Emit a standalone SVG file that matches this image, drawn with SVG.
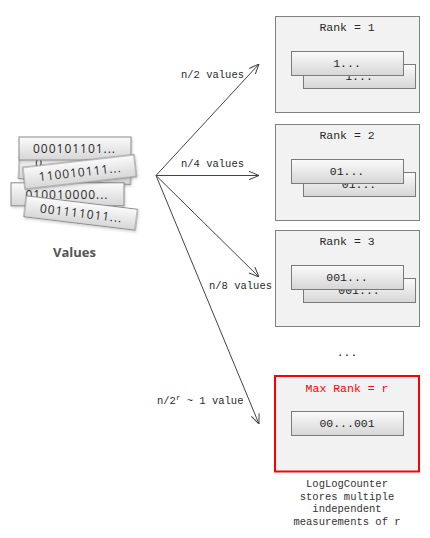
<svg xmlns="http://www.w3.org/2000/svg" width="430" height="538" viewBox="0 0 430 538">
<defs>
<linearGradient id="cardGrad" x1="0" y1="0" x2="0" y2="1">
<stop offset="0" stop-color="#fbfbfb"/>
<stop offset="1" stop-color="#d6d6d6"/>
</linearGradient>
<filter id="shadow" x="-10%" y="-30%" width="130%" height="170%">
<feDropShadow dx="1" dy="1.5" stdDeviation="1.2" flood-color="#000" flood-opacity="0.18"/>
</filter>
<marker id="arrow" viewBox="0 0 10 10" refX="10" refY="5" markerWidth="10" markerHeight="10" markerUnits="userSpaceOnUse" orient="auto">
<path d="M0,0.8 L10,5 L0,9.2" fill="none" stroke="#444" stroke-width="1"/>
</marker>
<style>
.card{fill:url(#cardGrad);stroke:#8a8a8a;stroke-width:1;filter:url(#shadow)}
.cardtxt{font-family:"Open Sans","Noto Sans",sans-serif;font-size:12px;fill:#2a2a2a;text-anchor:middle}
.rankbox{fill:#f2f2f2;stroke:#808080;stroke-width:1}
.maxbox{fill:#f2f2f2;stroke:#ff0000;stroke-width:2}
.inner{fill:url(#cardGrad);stroke:#7a7a7a;stroke-width:1}
.mono{font-family:"Liberation Mono","Courier New",monospace;fill:#2a2a2a}
.title{font-size:11.5px;text-anchor:middle}
.val{font-size:11.5px;text-anchor:middle;fill:#1e1e1e}
.lbl{font-size:10.5px}
.cap{font-size:10.5px;text-anchor:middle;fill:#333}
.conn{stroke:#444;stroke-width:1;fill:none;marker-end:url(#arrow)}
.values{font-family:"Open Sans","Noto Sans",sans-serif;font-weight:bold;font-size:13px;fill:#555;text-anchor:middle}
</style>
</defs>
<rect width="430" height="538" fill="#ffffff"/>

<g id="values">
<g transform="translate(75,170) rotate(3)">
<rect class="card" x="-56" y="-11.5" width="112" height="23"/>
<text class="cardtxt" x="-40" y="-1" style="text-anchor:start">0</text>
</g>
<g transform="translate(75,148.5)">
<rect class="card" x="-56" y="-11.5" width="112" height="23"/>
<text class="cardtxt" x="-1" y="4.5" textLength="82" lengthAdjust="spacing">000101101...</text>
</g>
<g transform="translate(67.5,194.3)">
<rect class="card" x="-56.5" y="-11.5" width="113" height="23"/>
<text class="cardtxt" x="-1" y="4.5" textLength="82" lengthAdjust="spacing">010010000...</text>
</g>
<g transform="translate(79.6,172) rotate(-6.5)">
<rect class="card" x="-56" y="-11" width="112" height="22"/>
<text class="cardtxt" x="0" y="4.5" textLength="82" lengthAdjust="spacing">110010111...</text>
</g>
<g transform="translate(80.7,213) rotate(6.9)">
<rect class="card" x="-56" y="-10.5" width="112" height="21"/>
<text class="cardtxt" x="0" y="4.5" textLength="82" lengthAdjust="spacing">001111011...</text>
</g>
<text class="values" x="74.5" y="257">Values</text>
</g>

<g id="connectors">
<line class="conn" x1="156" y1="175.5" x2="259" y2="64"/>
<line class="conn" x1="156" y1="175.5" x2="259" y2="175.5"/>
<line class="conn" x1="156" y1="175.5" x2="259" y2="277"/>
<line class="conn" x1="156" y1="175.5" x2="259" y2="424"/>
<text class="mono lbl" x="181" y="78">n/2 values</text>
<text class="mono lbl" x="181" y="167">n/4 values</text>
<text class="mono lbl" x="209" y="289">n/8 values</text>
<text class="mono lbl" x="157" y="404">n/2<tspan font-size="7.5" dy="-4">r</tspan><tspan dy="4"> ~ 1 value</tspan></text>
</g>

<g id="rank1">
<rect class="rankbox" x="275.5" y="16.5" width="144" height="96"/>
<text class="mono title" x="347" y="31">Rank = 1</text>
<rect class="inner" x="303.5" y="64.5" width="112" height="24"/>
<text class="mono val" x="359" y="80">1...</text>
<rect class="inner" x="291.5" y="51.5" width="112" height="24"/>
<text class="mono val" x="347" y="67">1...</text>
</g>

<g id="rank2">
<rect class="rankbox" x="275.5" y="124.5" width="144" height="96"/>
<text class="mono title" x="347" y="139">Rank = 2</text>
<rect class="inner" x="303.5" y="172.5" width="112" height="24"/>
<text class="mono val" x="359" y="188">01...</text>
<rect class="inner" x="291.5" y="159.5" width="112" height="24"/>
<text class="mono val" x="347" y="175">01...</text>
</g>

<g id="rank3">
<rect class="rankbox" x="275.5" y="230.5" width="144" height="96"/>
<text class="mono title" x="347" y="245">Rank = 3</text>
<rect class="inner" x="303.5" y="278.5" width="112" height="24"/>
<text class="mono val" x="359" y="294">001...</text>
<rect class="inner" x="291.5" y="265.5" width="112" height="24"/>
<text class="mono val" x="347" y="281">001...</text>
</g>

<g id="ellipsis">
<text class="mono title" x="347" y="356">...</text>
</g>

<g id="maxrank">
<rect class="maxbox" x="275" y="376" width="144" height="95.5"/>
<text class="mono title" x="347" y="391.5" style="fill:#ff0000">Max Rank = r</text>
<rect class="inner" x="291.5" y="411.5" width="112" height="24"/>
<text class="mono val" x="347" y="427">00...001</text>
</g>

<g id="caption">
<text class="mono cap" x="347" y="487">LogLogCounter</text>
<text class="mono cap" x="347" y="499.5">stores multiple</text>
<text class="mono cap" x="347" y="512">independent</text>
<text class="mono cap" x="347" y="524.5">measurements of r</text>
</g>
</svg>
